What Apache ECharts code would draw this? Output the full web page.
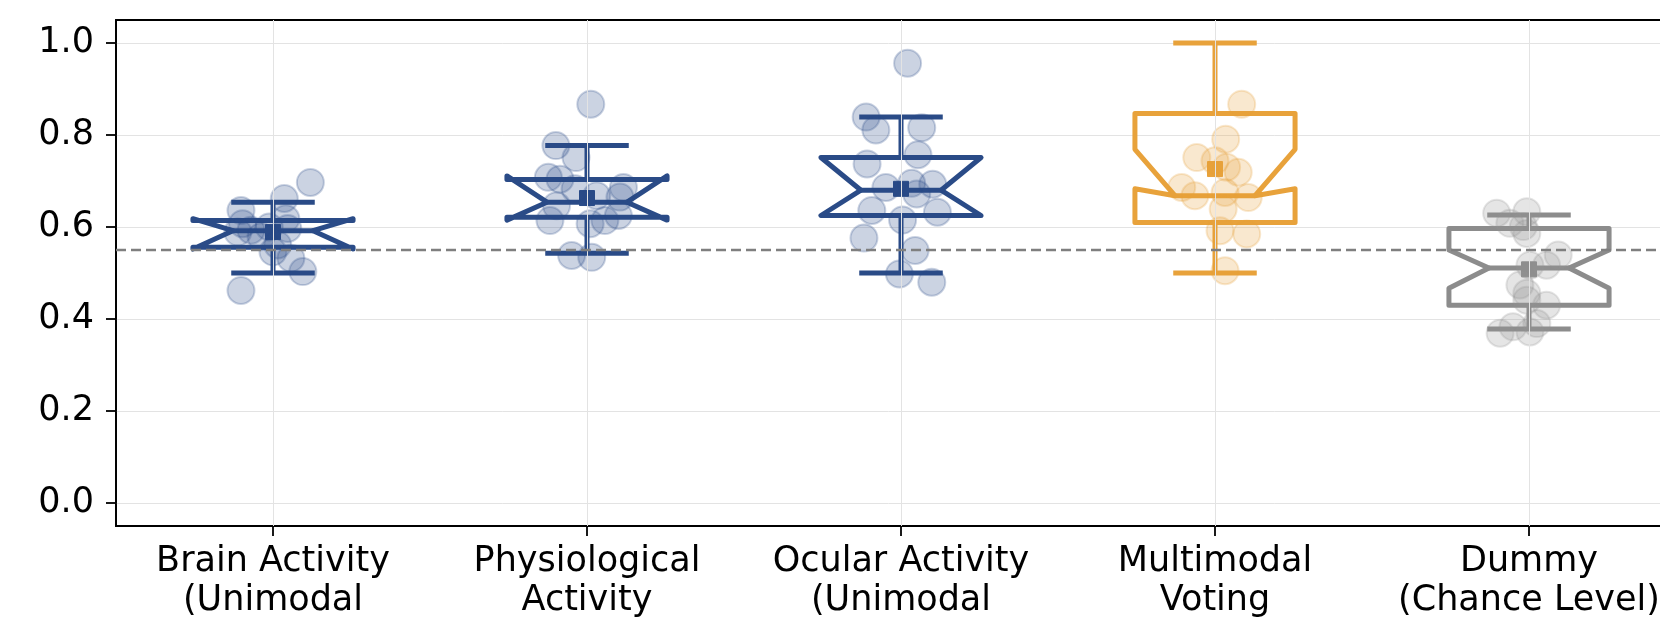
<!DOCTYPE html>
<html>
<head>
<meta charset="utf-8">
<script src="https://cdn.jsdelivr.net/npm/echarts@6/dist/echarts.min.js"></script>
<style>
  html, body { margin: 0; padding: 0; background: #ffffff; }
  #chart { width: 1660px; height: 618px; }
</style>
</head>
<body>
<div id="chart"></div>
<script>
// Model names shown under each box
const categories = [
  'Brain Activity\n(Unimodal',
  'Physiological\nActivity',
  'Ocular Activity\n(Unimodal',
  'Multimodal\nVoting',
  'Dummy\n(Chance Level)'
];

// Y tick values
const yTicks = [0, 0.2, 0.4, 0.6, 0.8, 1.0];

// Chance-level reference
const chanceLevel = 0.55;

// Box statistics per model:
// [whiskerLow, q1, notchLow, median, notchHigh, q3, whiskerHigh, mean]
const brainStats      = [0.500, 0.556, 0.552, 0.592, 0.618, 0.614, 0.654, 0.589];
const physioStats     = [0.543, 0.621, 0.615, 0.654, 0.711, 0.703, 0.777, 0.663];
const ocularStats     = [0.500, 0.625, 0.625, 0.680, 0.751, 0.751, 0.839, 0.683];
const multimodalStats = [0.500, 0.610, 0.683, 0.668, 0.769, 0.847, 1.000, 0.726];
const dummyStats      = [0.378, 0.430, 0.467, 0.511, 0.550, 0.597, 0.626, 0.508];

// Per-fold scores: [horizontal jitter, score]
const brainScores = [
  [0.119, 0.697], [0.036, 0.662], [-0.102, 0.636], [-0.097, 0.607], [-0.070, 0.593],
  [-0.012, 0.600], [0.041, 0.618], [0.047, 0.597], [0.000, 0.546], [0.057, 0.532],
  [0.095, 0.503], [-0.102, 0.462], [-0.112, 0.589], [-0.038, 0.579], [0.015, 0.561]
];
const physioScores = [
  [0.012, 0.867], [-0.099, 0.777], [-0.035, 0.751], [-0.123, 0.708], [-0.086, 0.704],
  [0.116, 0.686], [-0.038, 0.683], [0.031, 0.668], [0.105, 0.665], [-0.097, 0.646],
  [-0.118, 0.614], [0.010, 0.607], [0.057, 0.614], [0.100, 0.625], [-0.049, 0.538],
  [0.015, 0.534]
];
const ocularScores = [
  [0.021, 0.956], [-0.111, 0.839], [-0.080, 0.811], [0.066, 0.816], [0.054, 0.757],
  [-0.108, 0.737], [-0.048, 0.686], [0.034, 0.695], [0.101, 0.693], [-0.093, 0.636],
  [0.005, 0.615], [0.116, 0.632], [-0.118, 0.576], [0.045, 0.549], [-0.005, 0.498],
  [0.098, 0.480], [0.050, 0.672]
];
const multimodalScores = [
  [0.085, 0.867], [0.034, 0.791], [-0.058, 0.751], [0.000, 0.744], [0.074, 0.719],
  [0.037, 0.730], [-0.106, 0.686], [-0.064, 0.668], [0.032, 0.675], [0.106, 0.664],
  [0.026, 0.639], [0.016, 0.592], [0.101, 0.585], [0.032, 0.505]
];
const dummyScores = [
  [-0.103, 0.630], [-0.007, 0.633], [-0.061, 0.608], [-0.018, 0.601], [-0.007, 0.586],
  [0.093, 0.539], [0.056, 0.517], [0.003, 0.517], [-0.029, 0.474], [-0.007, 0.456],
  [0.056, 0.430], [-0.007, 0.441], [-0.092, 0.369], [-0.051, 0.383], [0.003, 0.372],
  [0.025, 0.390]
];

const allStats = [brainStats, physioStats, ocularStats, multimodalStats, dummyStats];
const allScores = [brainScores, physioScores, ocularScores, multimodalScores, dummyScores];

const BLUE = '#2a4b87';
const ORANGE = '#e8a23b';
const GREY = '#8c8c8c';
const lineColors = [BLUE, BLUE, BLUE, ORANGE, GREY];
const dotFill = [
  'rgba(42,75,135,0.30)', 'rgba(42,75,135,0.30)', 'rgba(42,75,135,0.30)',
  'rgba(232,162,59,0.30)', 'rgba(150,150,150,0.30)'
];

const FONT = '"DejaVu Sans", sans-serif';

// Notched box, whiskers, caps, median and mean marker for one model
function renderBox(params, api) {
  const i = api.value(0);
  const v = [];
  for (let k = 1; k <= 8; k++) v.push(api.value(k));
  const [wl, q1, nl, md, nh, q3, wh, mean] = v;
  const unit = api.size([1, 0])[0];
  const hw = unit * 0.255;      // half box width
  const waist = hw * 0.5;       // half width at the notch waist
  const capHw = unit * 0.133;   // half cap width
  const cx = api.coord([i, md])[0];
  const y = (val) => api.coord([i, val])[1];
  const color = lineColors[params.dataIndex];
  const stroke = { stroke: color, lineWidth: 5, fill: null, lineJoin: 'round', lineCap: 'butt' };

  const boxPts = [
    [cx - hw, y(q1)], [cx + hw, y(q1)], [cx + hw, y(nl)], [cx + waist, y(md)],
    [cx + hw, y(nh)], [cx + hw, y(q3)], [cx - hw, y(q3)], [cx - hw, y(nh)],
    [cx - waist, y(md)], [cx - hw, y(nl)]
  ];
  const ms = 15;
  return {
    type: 'group',
    children: [
      { type: 'line', shape: { x1: cx, y1: y(q1), x2: cx, y2: y(wl) }, style: stroke },
      { type: 'line', shape: { x1: cx, y1: y(q3), x2: cx, y2: y(wh) }, style: stroke },
      { type: 'line', shape: { x1: cx - capHw, y1: y(wl), x2: cx + capHw, y2: y(wl) }, style: stroke },
      { type: 'line', shape: { x1: cx - capHw, y1: y(wh), x2: cx + capHw, y2: y(wh) }, style: stroke },
      { type: 'polygon', shape: { points: boxPts }, style: stroke },
      { type: 'line', shape: { x1: cx - waist, y1: y(md), x2: cx + waist, y2: y(md) }, style: stroke },
      { type: 'rect', shape: { x: cx - ms / 2, y: y(mean) - ms / 2, width: ms, height: ms },
        style: { fill: color, stroke: color, lineWidth: 1 } }
    ]
  };
}

const boxData = allStats.map((s, i) => [i].concat(s));

const scatterSeries = allScores.map((pts, i) => ({
  type: 'scatter',
  xAxisIndex: 1,
  yAxisIndex: 0,
  z: 4,
  symbol: 'circle',
  symbolSize: 27,
  silent: true,
  itemStyle: {
    color: dotFill[i],
    borderColor: dotFill[i],
    borderWidth: 2
  },
  data: pts.map(p => [i + p[0], p[1]])
}));

const chart = echarts.init(document.getElementById('chart'), null, { renderer: 'canvas' });

chart.setOption({
  animation: false,
  backgroundColor: '#ffffff',
  grid: {
    left: 116,
    right: -26,
    top: 20,
    bottom: 92,
    show: true,
    borderColor: '#000000',
    borderWidth: 1.8,
    containLabel: false,
    outerBoundsMode: 'none'
  },
  xAxis: [
    {
      type: 'category',
      data: categories,
      boundaryGap: true,
      axisLine: { show: true, onZero: false, lineStyle: { color: '#000000', width: 1.8 } },
      axisTick: { show: true, alignWithLabel: true, length: 10, lineStyle: { color: '#000000', width: 1.8 } },
      axisLabel: {
        interval: 0,
        color: '#000000',
        fontFamily: FONT,
        fontSize: 35,
        lineHeight: 39,
        margin: 16
      },
      splitLine: { show: false }
    },
    {
      type: 'value',
      min: -0.5,
      max: 4.5,
      show: false,
      axisLine: { show: false, onZero: false },
      splitLine: { show: false }
    }
  ],
  yAxis: {
    type: 'value',
    min: -0.05,
    max: 1.05,
    splitNumber: 5,
    axisLine: { show: true, onZero: false, lineStyle: { color: '#000000', width: 1.8 } },
    axisTick: { show: true, length: 10, customValues: yTicks, lineStyle: { color: '#000000', width: 1.8 } },
    axisLabel: {
      customValues: yTicks,
      color: '#000000',
      fontFamily: FONT,
      fontSize: 35,
      margin: 22,
      formatter: (val) => val.toFixed(1)
    },
    splitLine: { show: true, lineStyle: { color: '#e3e3e3', width: 1 } }
  },
  series: [
    {
      // vertical grid lines at each model and the chance-level line
      type: 'line',
      xAxisIndex: 1,
      yAxisIndex: 0,
      data: [],
      z: 1,
      silent: true,
      markLine: {
        silent: true,
        symbol: ['none', 'none'],
        label: { show: false },
        animation: false,
        data: categories.map((c, i) => ({
          xAxis: i,
          lineStyle: { color: '#e3e3e3', width: 1, type: 'solid' }
        })).concat([{
          yAxis: chanceLevel,
          lineStyle: { color: '#7f7f7f', width: 2.4, type: [10, 5] }
        }])
      }
    },
    {
      type: 'custom',
      xAxisIndex: 1,
      yAxisIndex: 0,
      z: 3,
      silent: true,
      renderItem: renderBox,
      encode: { x: 0, y: [1, 2, 3, 4, 5, 6, 7, 8] },
      data: boxData
    }
  ].concat(scatterSeries)
});
</script>
</body>
</html>
